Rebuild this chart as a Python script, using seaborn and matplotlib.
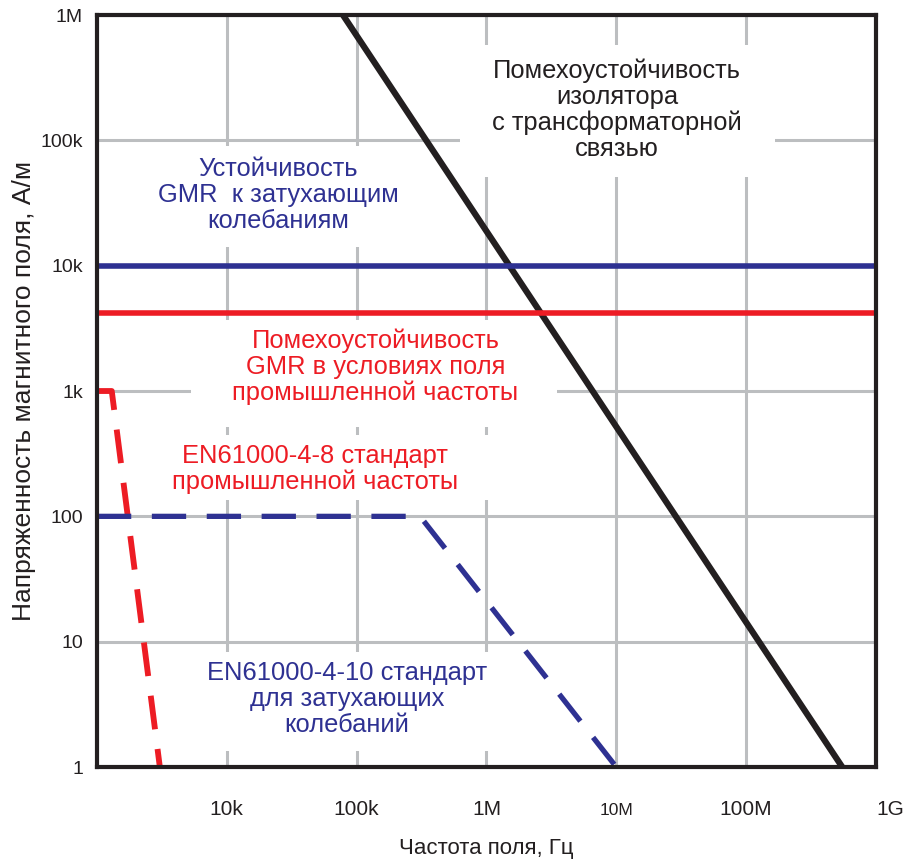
import matplotlib
matplotlib.use("Agg")
import matplotlib.pyplot as plt
import seaborn as sns
import pandas as pd
from matplotlib.patches import Rectangle

# ---------------- data ----------------
isolator_freq = [7.85e4, 5.5e8]
isolator_field = [1e6, 1.0]

span_freq = [1e3, 1e9]
gmr_damped_level = [1.0e4, 1.0e4]
gmr_powerfreq_level = [4.2e3, 4.2e3]

en8_freq = [1e3, 1.3e3, 3.05e3]
en8_field = [1e3, 1e3, 1.0]

en10_freq = [1e3, 3.08e5, 1.0e7]
en10_field = [100, 100, 1.0]

x_ticks = [1e4, 1e5, 1e6, 1e7, 1e8, 1e9]
x_ticklabels = ["10k", "100k", "1M", "10M", "100M", "1G"]
y_ticks = [1, 10, 100, 1e3, 1e4, 1e5, 1e6]
y_ticklabels = ["1", "10", "100", "1k", "10k", "100k", "1M"]

txt_isolator = "Помехоустойчивость\nизолятора\nс трансформаторной\nсвязью"
txt_gmr_damped = "Устойчивость\nGMR  к затухающим\nколебаниям"
txt_gmr_power = "Помехоустойчивость\nGMR в условиях поля\nпромышленной частоты"
txt_en8 = "EN61000-4-8 стандарт\nпромышленной частоты"
txt_en10 = "EN61000-4-10 стандарт\nдля затухающих\nколебаний"

RED = "#ed1c24"
BLUE = "#2e3192"
BLACK = "#231f20"
GRID = "#bcbec0"

# ---------------- style ----------------
sns.set_style("white")
plt.rcParams["font.family"] = ["Liberation Sans", "DejaVu Sans"]

fig = plt.figure(figsize=(9.13, 8.59), dpi=100)
ax = fig.add_axes([0.1062, 0.1071, 0.8532, 0.8754])
ax.set_xscale("log")
ax.set_yscale("log")
ax.set_xlim(1e3, 1e9)
ax.set_ylim(1, 1e6)

# ---------------- lines ----------------
sns.lineplot(x=isolator_freq, y=isolator_field, ax=ax, color=BLACK, lw=4.5,
             estimator=None, sort=False, zorder=3)
sns.lineplot(x=span_freq, y=gmr_damped_level, ax=ax, color=BLUE, lw=4,
             estimator=None, sort=False, zorder=3)
sns.lineplot(x=span_freq, y=gmr_powerfreq_level, ax=ax, color=RED, lw=4,
             estimator=None, sort=False, zorder=3)
sns.lineplot(x=en8_freq, y=en8_field, ax=ax, color=RED, lw=4.2,
             estimator=None, sort=False, zorder=3)
ax.lines[-1].set_dashes([5.8, 3.4])
sns.lineplot(x=en10_freq, y=en10_field, ax=ax, color=BLUE, lw=3.8,
             estimator=None, sort=False, zorder=3)
ax.lines[-1].set_dashes([6.5, 3.9])
for ln in ax.lines:
    ln.set_solid_capstyle("butt")
    ln.set_dash_capstyle("butt")

# ---------------- grid / axes ----------------
ax.set_xticks(x_ticks, x_ticklabels)
ax.set_yticks(y_ticks, y_ticklabels)
ax.minorticks_off()
ax.set_axisbelow(True)
ax.grid(True, which="major", color=GRID, lw=2.2)
ax.tick_params(axis="both", length=0, labelcolor=BLACK)
ax.tick_params(axis="y", pad=10, labelsize=14)
ax.tick_params(axis="x", pad=34.5, labelsize=15)
for lab in ax.get_xticklabels():
    lab.set_verticalalignment("baseline")
    if lab.get_text() == "10M":
        lab.set_fontsize(12.5)
    if lab.get_text() == "1G":
        lab.set_horizontalalignment("left")
for sp in ax.spines.values():
    sp.set_linewidth(3)
    sp.set_color(BLACK)
    sp.set_zorder(4)

ax.set_xlabel("Частота поля, Гц", fontsize=16, color=BLACK, va="center")
ax.xaxis.set_label_coords(0.5, -0.108)
ax.set_ylabel("Напряженность магнитного поля, А/м", fontsize=19, color=BLACK, va="center")
ax.yaxis.set_label_coords(-0.094, 0.5)

# ---------------- white boxes behind labels (hide grid) ----------------
boxes = [
    (0.466, 0.7846, 0.870, 0.960),
    (0.0552, 0.6915, 0.4403, 0.8258),
    (0.1207, 0.4521, 0.5905, 0.5944),
    (0.0809, 0.3551, 0.5173, 0.4415),
    (0.1258, 0.0213, 0.5173, 0.1529),
]
for x0, y0, x1, y1 in boxes:
    ax.add_patch(Rectangle((x0, y0), x1 - x0, y1 - y0, transform=ax.transAxes,
                           facecolor="white", edgecolor="none", zorder=1))

# ---------------- annotations ----------------
kw = dict(transform=ax.transAxes, ha="center", va="center", multialignment="center",
          fontsize=18.4, linespacing=1.09, zorder=2)
ax.text(0.6675, 0.874, txt_isolator, color=BLACK, **kw)
ax.text(0.2324, 0.7606, txt_gmr_damped, color=BLUE, **kw)
ax.text(0.3575, 0.532, txt_gmr_power, color=RED, **kw)
ax.text(0.2798, 0.3963, txt_en8, color=RED, **kw)
ax.text(0.3209, 0.0904, txt_en10, color=BLUE, **kw)

fig.savefig("out.png", dpi=100)
